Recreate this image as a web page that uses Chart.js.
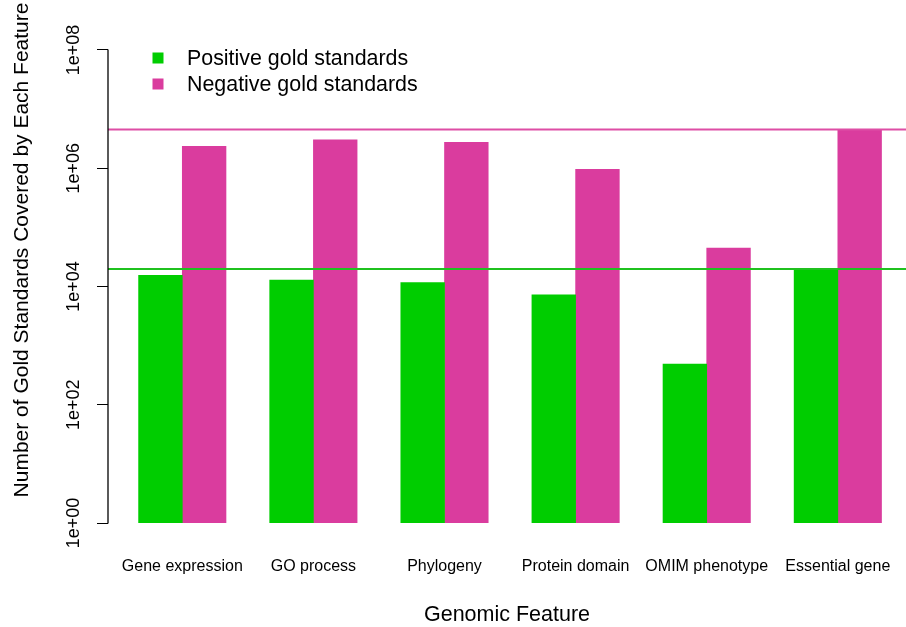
<!DOCTYPE html>
<html>
<head>
<meta charset="utf-8">
<script src="https://cdn.jsdelivr.net/npm/chart.js@4.4.1/dist/chart.umd.min.js"></script>
<style>
  body { margin: 0; background: #fff; }
  #wrap { width: 906px; height: 627px; position: relative; }
</style>
</head>
<body>
<div id="wrap"><canvas id="myChart"></canvas></div>
<script>
// values
const categories = ['Gene expression', 'GO process', 'Phylogeny', 'Protein domain', 'OMIM phenotype', 'Essential gene'];
const positive = [15400, 12800, 11600, 7200, 490, 19700];
const negative = [2340000, 3020000, 2730000, 955000, 44600, 4530000];
const yTicks = [1, 1e2, 1e4, 1e6, 1e8];
const seriesNames = ['Positive gold standards', 'Negative gold standards'];

const green = '#00CD00';
const magenta = '#DA3C9E';
const fontFamily = '"Liberation Sans", Arial, Helvetica, sans-serif';

Chart.defaults.font.family = fontFamily;
Chart.defaults.color = '#000';

const ctx = document.getElementById('myChart');

// R barplot style: bar i of group g sits at 3*g+1 .. 3*g+3, group centre at 3*g+2
function toPoints(arr) {
    return arr.map(function(v, i) { return {x: 3 * i + 2, y: v}; });
}

// draws the R-like axis line, the abline()s, the y title and the legend
const rStyle = {
    id: 'rStyle',
    afterDatasetsDraw: function(chart) {
        const c = chart.ctx;
        const y = chart.scales.y;
        const area = chart.chartArea;
        c.save();
        // reference lines at the highest count of each series
        [[Math.max(...positive), '#1FC21F'], [Math.max(...negative), '#DE4EA5']].forEach(function(l) {
            const py = y.getPixelForValue(l[0]);
            c.strokeStyle = l[1];
            c.lineWidth = 2;
            c.beginPath();
            c.moveTo(area.left, py);
            c.lineTo(area.right, py);
            c.stroke();
        });
        c.restore();
    },
    afterDraw: function(chart) {
        const c = chart.ctx;
        const y = chart.scales.y;
        const area = chart.chartArea;

        // y axis line, only between first and last tick
        c.save();
        c.strokeStyle = '#000';
        c.lineWidth = 1.3;
        c.beginPath();
        c.moveTo(area.left, y.getPixelForValue(yTicks[0]) + 0.5);
        c.lineTo(area.left, y.getPixelForValue(yTicks[yTicks.length - 1]) - 0.5);
        c.stroke();
        c.restore();

        // y title
        c.save();
        c.translate(22, 250);
        c.rotate(-Math.PI / 2);
        c.font = '21px ' + fontFamily;
        c.fillStyle = '#000';
        c.textAlign = 'center';
        c.textBaseline = 'middle';
        c.fillText('Number of Gold Standards Covered by Each Feature', 0, 0);
        c.restore();

        // legend
        c.save();
        c.font = '21.4px ' + fontFamily;
        c.textBaseline = 'middle';
        const cols = [green, magenta];
        for (let i = 0; i < seriesNames.length; i++) {
            const cy = 58 + i * 26;
            c.fillStyle = cols[i];
            c.fillRect(152.5, cy - 5.5, 11, 11);
            c.fillStyle = '#000';
            c.fillText(seriesNames[i], 187, cy + 1);
        }
        c.restore();
    }
};

var graphData = {
    type: 'bar',
    data: {
        datasets: [
            {
                label: seriesNames[0],
                data: toPoints(positive),
                backgroundColor: green,
                borderWidth: 0,
                base: 1,
            },
            {
                label: seriesNames[1],
                data: toPoints(negative),
                backgroundColor: magenta,
                borderWidth: 0,
                base: 1,
            },
        ]
    },
    options: {
        animation: false,
        responsive: true,
        maintainAspectRatio: false,
        devicePixelRatio: 1,
        barThickness: 43.7,
        layout: {
            padding: {top: 31, right: 0, bottom: 0, left: 0}
        },
        plugins: {
            legend: {display: false},
            tooltip: {enabled: false},
        },
        scales: {
            x: {
                type: 'linear',
                offset: false,
                min: 0.3,
                max: 18.56,
                grid: {display: false, drawTicks: false, offset: false},
                border: {display: false},
                afterBuildTicks: function(scale) {
                    scale.ticks = categories.map(function(c, i) { return {value: 3 * i + 2}; });
                },
                afterFit: function(scale) {
                    scale.height = 85;
                },
                ticks: {
                    autoSkip: false,
                    maxRotation: 0,
                    minRotation: 0,
                    padding: 15,
                    font: {size: 16},
                    color: '#000',
                    callback: function(value) {
                        return categories[Math.round((value - 2) / 3)];
                    }
                },
                title: {
                    display: true,
                    text: 'Genomic Feature',
                    font: {size: 21.5},
                    color: '#000',
                    padding: {top: 0, bottom: -1}
                }
            },
            y: {
                type: 'logarithmic',
                min: Math.pow(10, -0.32),
                max: Math.pow(10, 8.32),
                border: {display: false},
                grid: {
                    display: true,
                    drawOnChartArea: false,
                    drawTicks: true,
                    tickLength: 11,
                    color: '#000',
                    lineWidth: 1,
                },
                afterBuildTicks: function(scale) {
                    scale.ticks = yTicks.map(function(v) { return {value: v}; });
                },
                afterFit: function(scale) {
                    scale.width = 108;
                },
                ticks: {
                    minRotation: 90,
                    maxRotation: 90,
                    crossAlign: 'center',
                    padding: -2,
                    font: {size: 18},
                    color: '#000',
                    callback: function(value) {
                        return '1e+' + String(Math.round(Math.log10(value))).padStart(2, '0');
                    }
                },
                title: {display: false}
            }
        }
    },
    plugins: [rStyle]
};

var myChart = new Chart(ctx, graphData);
</script>
</body>
</html>
